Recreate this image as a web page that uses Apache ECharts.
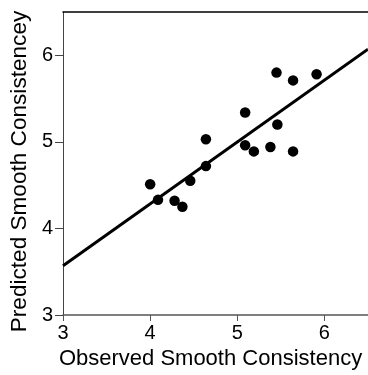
<!DOCTYPE html>
<html>
<head>
<meta charset="utf-8">
<script src="https://cdn.jsdelivr.net/npm/echarts@6/dist/echarts.min.js"></script>
<style>html,body{margin:0;padding:0;background:#fff;}#c{width:368px;height:375px;}</style>
</head>
<body>
<div id="c"></div>
<script>
var observed = [4.00, 4.09, 4.28, 4.37, 4.46, 4.64, 4.64, 5.09, 5.09, 5.19, 5.38, 5.46, 5.45, 5.64, 5.64, 5.91];
var predicted = [4.51, 4.33, 4.32, 4.25, 4.55, 4.72, 5.03, 5.34, 4.96, 4.89, 4.94, 5.20, 5.80, 5.71, 4.89, 5.78];
var fitX = [3, 6.5];
var fitY = [3.57, 6.07];
var tickValues = [3, 4, 5, 6];
var xTitle = 'Observed Smooth Consistency';
var yTitle = 'Predicted Smooth Consistencey';

var points = observed.map(function (x, i) { return [x, predicted[i]]; });
var fitLine = fitX.map(function (x, i) { return [x, fitY[i]]; });

var font = 'Liberation Sans, Arial, Helvetica, sans-serif';
var chart = echarts.init(document.getElementById('c'));
chart.setOption({
  animation: false,
  backgroundColor: '#fff',
  grid: { left: 59, top: 12, width: 310, height: 308.7 },
  xAxis: [{
    type: 'value', min: 3, max: 6.5, interval: 1,
    name: xTitle, nameLocation: 'middle', nameGap: 33,
    nameTextStyle: { fontFamily: font, fontSize: 22, color: '#000', padding: [0, 10, 0, 0] },
    axisLine: { show: true, lineStyle: { color: '#555', width: 1.5 } },
    axisTick: { show: true, length: 6, customValues: tickValues, lineStyle: { color: '#555', width: 1 } },
    axisLabel: { customValues: tickValues, margin: 8, fontFamily: font, fontSize: 20, color: '#000' },
    splitLine: { show: false }
  }, {
    type: 'value', min: 3, max: 6.5, position: 'top',
    axisLine: { show: true, onZero: false, lineStyle: { color: '#000', width: 1.5 } },
    axisTick: { show: false }, axisLabel: { show: false }, splitLine: { show: false }
  }],
  yAxis: {
    type: 'value', min: 3, max: 6.5, interval: 1,
    name: yTitle, nameLocation: 'middle', nameGap: 26, nameRotate: 90,
    nameTextStyle: { fontFamily: font, fontSize: 22.6, color: '#000', padding: [0, 16, 0, 0] },
    axisLine: { show: true, lineStyle: { color: '#444', width: 1 } },
    axisTick: { show: true, length: 8, customValues: tickValues, lineStyle: { color: '#444', width: 1 } },
    axisLabel: { customValues: tickValues, margin: 10, fontFamily: font, fontSize: 20, color: '#000' },
    splitLine: { show: false }
  },
  series: [{
    type: 'line', data: fitLine, symbol: 'none', silent: true,
    lineStyle: { color: '#000', width: 3 }, z: 2
  }, {
    type: 'scatter', data: points, symbol: 'circle', symbolSize: 10.5,
    itemStyle: { color: '#000', opacity: 1 }, z: 3
  }]
});
</script>
</body>
</html>
